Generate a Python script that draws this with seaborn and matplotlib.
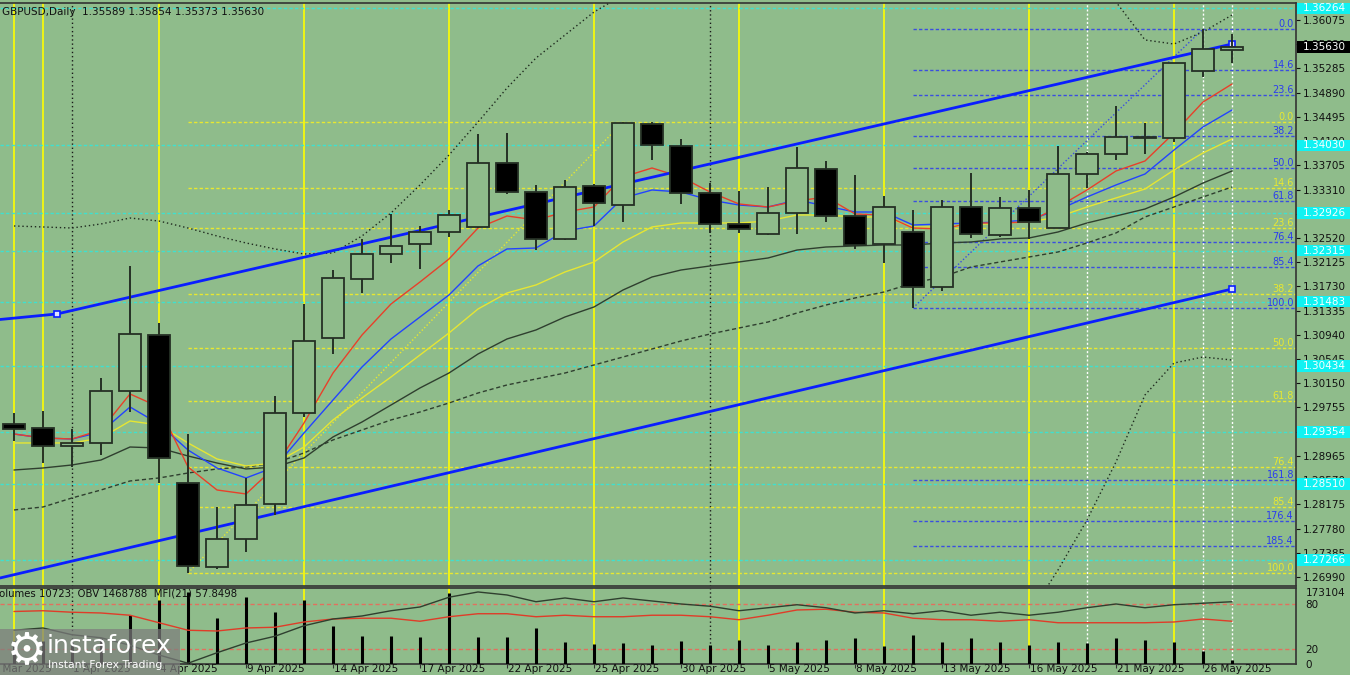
import matplotlib
matplotlib.use("Agg")
import matplotlib.pyplot as plt
import matplotlib.transforms as mtransforms
from matplotlib.patches import Rectangle
import numpy as np
import pandas as pd
import seaborn as sns

# ---------------- data ----------------
header_text = "GBPUSD,Daily  1.35589 1.35854 1.35373 1.35630"
indicator_text = "Volumes 10723  OBV 1468788  MFI(21) 57.8498"

bar_index = list(range(43))
opens = [1.29486, 1.29420, 1.29127, 1.29176, 1.30024, 1.30937, 1.28523, 1.27153, 1.27610, 1.28181,
         1.29665, 1.30888, 1.31851, 1.32258, 1.32421, 1.32617, 1.32699, 1.33743, 1.33270, 1.32503,
         1.33367, 1.33057, 1.34379, 1.34020, 1.33253, 1.32748, 1.32585, 1.32927, 1.33645, 1.32878,
         1.32421, 1.32617, 1.31720, 1.33025, 1.32568, 1.33009, 1.32682, 1.33563, 1.33889, 1.34150,
         1.34150, 1.35243, 1.35589]
highs = [1.29665, 1.29698, 1.29404, 1.30236, 1.32063, 1.31133, 1.29323, 1.28132, 1.28605, 1.29942,
         1.31443, 1.31997, 1.32503, 1.32911, 1.32715, 1.32976, 1.34216, 1.34232, 1.33384, 1.33465,
         1.33400, 1.34411, 1.34411, 1.34134, 1.33416, 1.33286, 1.33351, 1.34003, 1.33775, 1.33547,
         1.33204, 1.32976, 1.33139, 1.33579, 1.33188, 1.33302, 1.34020, 1.33922, 1.34672, 1.34395,
         1.35374, 1.35928, 1.35854]
lows = [1.29208, 1.28850, 1.28784, 1.28980, 1.29681, 1.28523, 1.27055, 1.27120, 1.27398, 1.28001,
        1.29600, 1.30627, 1.31622, 1.32112, 1.32014, 1.32536, 1.32680, 1.33237, 1.32324, 1.32487,
        1.32715, 1.32780, 1.33791, 1.33074, 1.32601, 1.32601, 1.32560, 1.32585, 1.32780, 1.32340,
        1.32112, 1.31378, 1.31655, 1.32519, 1.32536, 1.32503, 1.32682, 1.33335, 1.33791, 1.33889,
        1.34085, 1.35150, 1.35373]
closes = [1.29404, 1.29127, 1.29176, 1.30024, 1.30953, 1.28931, 1.27170, 1.27610, 1.28164, 1.29665,
          1.30839, 1.31867, 1.32258, 1.32389, 1.32617, 1.32894, 1.33743, 1.33270, 1.32503, 1.33351,
          1.33090, 1.34395, 1.34036, 1.33253, 1.32748, 1.32666, 1.32927, 1.33661, 1.32878, 1.32405,
          1.33025, 1.31720, 1.33025, 1.32585, 1.33009, 1.32780, 1.33563, 1.33889, 1.34167, 1.34167,
          1.35374, 1.35602, 1.35630]

ma_red = [1.29322, 1.29257, 1.29241, 1.29388, 1.29975, 1.29763, 1.28784, 1.28409, 1.28344, 1.28784,
          1.29502, 1.30317, 1.30937, 1.31443, 1.31802, 1.32177, 1.32682, 1.32878, 1.32813, 1.32943,
          1.33025, 1.33514, 1.33661, 1.33514, 1.33269, 1.33074, 1.33025, 1.33123, 1.33188, 1.32911,
          1.32894, 1.32682, 1.32666, 1.32764, 1.32764, 1.32780, 1.33025, 1.33302, 1.33612, 1.33775,
          1.34232, 1.34737, 1.35031]
ma_blue = [1.29322, 1.29257, 1.29241, 1.29355, 1.29763, 1.29486, 1.29061, 1.28768, 1.28605, 1.28784,
           1.29339, 1.29877, 1.30415, 1.30872, 1.31231, 1.31590, 1.32063, 1.32340, 1.32356, 1.32633,
           1.32715, 1.33172, 1.33302, 1.33269, 1.33139, 1.33057, 1.33025, 1.33139, 1.33041, 1.32943,
           1.32943, 1.32731, 1.32748, 1.32764, 1.32780, 1.32813, 1.32976, 1.33188, 1.33384, 1.33563,
           1.33954, 1.34330, 1.34607]
ma_yellow = [1.29176, 1.29176, 1.29176, 1.29257, 1.29534, 1.29469, 1.29176, 1.28915, 1.28801, 1.28849,
             1.29110, 1.29551, 1.29910, 1.30252, 1.30611, 1.30970, 1.31361, 1.31622, 1.31753, 1.31965,
             1.32128, 1.32454, 1.32699, 1.32764, 1.32764, 1.32764, 1.32796, 1.32894, 1.32894, 1.32862,
             1.32862, 1.32699, 1.32699, 1.32731, 1.32764, 1.32780, 1.32862, 1.33025, 1.33172, 1.33318,
             1.33628, 1.33906, 1.34134]
ma_gray = [1.28735, 1.28768, 1.28817, 1.28898, 1.29110, 1.29094, 1.28964, 1.28849, 1.28752, 1.28784,
           1.28931, 1.29274, 1.29518, 1.29795, 1.30073, 1.30317, 1.30627, 1.30872, 1.31019, 1.31231,
           1.31394, 1.31671, 1.31883, 1.31997, 1.32063, 1.32128, 1.32193, 1.32323, 1.32372, 1.32389,
           1.32405, 1.32405, 1.32438, 1.32454, 1.32503, 1.32519, 1.32617, 1.32764, 1.32878, 1.32992,
           1.33188, 1.33416, 1.33612]
ma_gray_dashed = [1.28083, 1.28132, 1.28279, 1.28409, 1.28556, 1.28605, 1.28686, 1.28752, 1.28784, 1.28849,
                  1.29013, 1.29225, 1.29388, 1.29551, 1.29681, 1.29828, 1.29991, 1.30122, 1.30220, 1.30317,
                  1.30448, 1.30578, 1.30709, 1.30839, 1.30953, 1.31051, 1.31149, 1.31296, 1.31426, 1.31541,
                  1.31638, 1.31785, 1.31883, 1.32046, 1.32128, 1.32209, 1.32291, 1.32438, 1.32601, 1.32862,
                  1.33025, 1.33188, 1.33351]
band_upper = [1.32715, 1.32699, 1.32682, 1.32748, 1.32845, 1.32796, 1.32682, 1.32552, 1.32438, 1.32340,
              1.32258, 1.32275, 1.32552, 1.32927, 1.33384, 1.33873, 1.34411, 1.34966, 1.35455, 1.35830,
              1.36205, 1.36483, 1.36809, 1.37053, 1.37217, 1.37298, 1.37380, 1.37380, 1.37380, 1.37347,
              1.37298, 1.37249, 1.37217, 1.37184, 1.37135, 1.37053, 1.36923, 1.36695, 1.36368, 1.35749,
              1.35683, 1.35879, 1.36156]
band_lower = [1.2610, 1.2605, 1.2600, 1.2600, 1.2590, 1.2575, 1.2540, 1.2500, 1.2470, 1.2450,
              1.2440, 1.2430, 1.2420, 1.2400, 1.2380, 1.2350, 1.2310, 1.2270, 1.2240, 1.2210,
              1.2180, 1.2160, 1.2150, 1.2150, 1.2160, 1.2180, 1.2200, 1.2230, 1.2260, 1.2300,
              1.2340, 1.2380, 1.2430, 1.2480, 1.25636, 1.26370, 1.27104, 1.27920, 1.28866, 1.29959,
              1.30480, 1.30578, 1.30529]

# lower panel (volume in units, OBV rescaled to panel 0-100, MFI 0-100)
volumes = [54100, 54100, 50500, 63100, 117200, 153300, 173104, 110000, 160500, 124400,
           153300, 92000, 66700, 66700, 64900, 171300, 64900, 64900, 86500, 52300,
           48700, 50500, 45100, 55900, 45100, 57700, 45100, 52300, 57700, 63100,
           43300, 70300, 52300, 63100, 52300, 45100, 52300, 50500, 63100, 57700,
           52300, 30700, 10723]
volume_axis_max = 173104
obv_scaled = [45, 48, 39, 35, 25, 12, 1, 15, 28, 37,
              51, 60, 64, 71, 76, 89, 96, 92, 83, 88,
              83, 88, 84, 80, 77, 71, 75, 79, 75, 68,
              71, 67, 71, 65, 69, 65, 69, 75, 80, 75,
              79, 81, 83]
mfi = [70, 71, 69, 68, 65, 55, 45, 44, 48, 49,
       56, 60, 61, 61, 57, 63, 67, 67, 63, 65,
       63, 63, 65, 65, 63, 59, 65, 72, 73, 69,
       68, 61, 59, 59, 57, 59, 55, 55, 55, 55,
       56, 60, 57]

date_label_index = [-1, 2, 5, 8, 11, 14, 17, 20, 23, 26, 29, 32, 35, 38, 41]
date_labels = ["27 Mar 2025", "1 Apr 2025", "4 Apr 2025", "9 Apr 2025", "14 Apr 2025",
               "17 Apr 2025", "22 Apr 2025", "25 Apr 2025", "30 Apr 2025", "5 May 2025",
               "8 May 2025", "13 May 2025", "16 May 2025", "21 May 2025", "26 May 2025"]

price_tick_labels = ["1.36075", "1.35680", "1.35285", "1.34890", "1.34495", "1.34100", "1.33705",
                     "1.33310", "1.32915", "1.32520", "1.32125", "1.31730", "1.31335", "1.30940",
                     "1.30545", "1.30150", "1.29755", "1.29360", "1.28965", "1.28570", "1.28175",
                     "1.27780", "1.27385", "1.26990"]
cyan_levels = [1.36264, 1.34030, 1.32926, 1.32315, 1.31483, 1.30434, 1.29354, 1.28510, 1.27266]
current_price = 1.35630

fib_ratios_yellow = [0.0, 14.6, 23.6, 38.2, 50.0, 61.8, 76.4, 85.4, 100.0]
fib_ratios_blue = [0.0, 14.6, 23.6, 38.2, 50.0, 61.8, 76.4, 85.4, 100.0, 161.8, 176.4, 185.4]
fib_yellow_low_bar, fib_yellow_high_bar = 6, 21
fib_blue_low_bar, fib_blue_high_bar = 31, 41

channel_upper = [(-0.48, 1.31190), (1.48, 1.31280), (42, 1.35683)]
channel_lower = [(-0.48, 1.26974), (42, 1.31687)]

yellow_vlines = [0, 1, 5, 10, 15, 20, 25, 30, 35, 40]
black_vlines = [2, 24]
white_vlines = [37, 41, 42]

# ---------------- style ----------------
BG = "#8fbc8b"
EDGE = "#253025"
sns.set_theme(style="white", rc={"axes.facecolor": BG, "figure.facecolor": BG})
plt.rcParams['font.family'] = ['DejaVu Sans']

W, H = 1350, 675
fig = plt.figure(figsize=(13.5, 6.75), dpi=100)
def fx(px): return px / W
def fy(py): return 1 - py / H

ax = fig.add_axes([0, fy(586), fx(1296), (586 - 3) / H])
ax2 = fig.add_axes([0, fy(664), fx(1296), (664 - 588) / H])
for a in (ax, ax2):
    a.set_facecolor(BG)

XMIN, XMAX = -14 / 29, (1296 - 14) / 29
YMIN, YMAX = 1.26843, 1.36352

dash = (0, (2.4, 1.6))

# vertical separators
for a in (ax, ax2):
    for v in yellow_vlines:
        a.axvline(v, color="#ffff00", lw=1.2, zorder=1)
    for v in black_vlines:
        a.axvline(v, color="#1a1a1a", lw=1, ls=(0, (1, 2)), zorder=1)
    for v in white_vlines:
        a.axvline(v, color="#ffffff", lw=1, ls=(0, (1.5, 1.5)), zorder=1)

# cyan levels
for lv in cyan_levels:
    ax.axhline(lv, color="#3fe0cf", lw=1, ls=dash, zorder=1.5)

# fibonacci levels
fy_hi, fy_lo = highs[fib_yellow_high_bar], lows[fib_yellow_low_bar]
fb_hi, fb_lo = highs[fib_blue_high_bar], lows[fib_blue_low_bar]
lab_x = (1294 - 14) / 29
for r in fib_ratios_yellow:
    p = fy_hi - r / 100 * (fy_hi - fy_lo)
    ax.plot([fib_yellow_low_bar, XMAX], [p, p], color="#e8e830", lw=1, ls=dash, zorder=1.6)
    ax.text(lab_x, p, f"{r:.1f}", color="#e8e830", fontsize=7, ha="right", va="bottom", zorder=9)
for r in fib_ratios_blue:
    p = fb_hi - r / 100 * (fb_hi - fb_lo)
    ax.plot([fib_blue_low_bar, XMAX], [p, p], color="#3a4ee0", lw=1, ls=dash, zorder=1.7)
    ax.text(lab_x, p, f"{r:.1f}", color="#2a3cf0", fontsize=7, ha="right", va="bottom", zorder=9)

# diagonal fib base lines
ax.plot([fib_yellow_low_bar, fib_yellow_high_bar], [fy_lo, fy_hi], color="#e8e830", lw=1, ls=(0, (1, 1.5)), zorder=2)
ax.plot([fib_blue_low_bar, fib_blue_high_bar], [fb_lo, fb_hi], color="#3a4ee0", lw=1, ls=(0, (1, 1.5)), zorder=2)

# moving averages and envelopes via seaborn
df = pd.DataFrame({"bar": bar_index, "red": ma_red, "blue": ma_blue, "yellow": ma_yellow,
                   "gray": ma_gray, "gray_d": ma_gray_dashed, "up": band_upper, "lo": band_lower})
sns.lineplot(data=df, x="bar", y="gray_d", ax=ax, color="#2f3f2f", lw=1, ls=(0, (3, 2)), zorder=3)
sns.lineplot(data=df, x="bar", y="gray", ax=ax, color="#2f3f2f", lw=1, zorder=3)
sns.lineplot(data=df, x="bar", y="yellow", ax=ax, color="#e6e633", lw=1, zorder=3)
sns.lineplot(data=df, x="bar", y="blue", ax=ax, color="#2243ff", lw=1, zorder=3)
sns.lineplot(data=df, x="bar", y="red", ax=ax, color="#e8402a", lw=1, zorder=3)
sns.lineplot(data=df, x="bar", y="up", ax=ax, color="#1f2a1f", lw=1, ls=(0, (1, 2)), zorder=3)
sns.lineplot(data=df, x="bar", y="lo", ax=ax, color="#1f2a1f", lw=1, ls=(0, (1, 2)), zorder=3)

# channel
ax.plot([p[0] for p in channel_upper], [p[1] for p in channel_upper], color="#0a1eff", lw=2, zorder=4)
ax.plot([p[0] for p in channel_lower], [p[1] for p in channel_lower], color="#0a1eff", lw=2, zorder=4)
ax.plot([channel_upper[1][0], channel_upper[2][0], channel_lower[1][0]],
        [channel_upper[1][1], channel_upper[2][1], channel_lower[1][1]],
        ls="none", marker="s", ms=4, mfc="#dfe4ff", mec="#0a1eff", mew=1.2, zorder=4.5)

# candles
ax.vlines(bar_index, lows, highs, color=EDGE, lw=1.4, zorder=6)
bottoms = [min(o, c) for o, c in zip(opens, closes)]
heights = [max(abs(c - o), 0.00004) for o, c in zip(opens, closes)]
faces = [BG if c >= o else "black" for o, c in zip(opens, closes)]
ax.bar(bar_index, heights, bottom=bottoms, width=0.76, color=faces, edgecolor=EDGE, linewidth=1.3, zorder=7)

ax.set_xlim(XMIN, XMAX)
ax.set_ylim(YMIN, YMAX)
ax.set_xlabel("")
ax.set_ylabel("")
ax.set_xticks([])
ax.yaxis.tick_right()
ax.set_yticks([float(t) for t in price_tick_labels])
ax.set_yticklabels(price_tick_labels)
ax.tick_params(axis="y", labelsize=7.5, length=3, width=0.8, pad=2, colors="#111111", right=True)
ax.spines["left"].set_visible(False)
for s in ("top", "bottom", "right"):
    ax.spines[s].set_color("#333333")
    ax.spines[s].set_linewidth(1.2)

# axis price tags
bt = mtransforms.blended_transform_factory(ax.transAxes, ax.transData)
for lv in cyan_levels:
    ax.add_patch(Rectangle((1.001, lv - 0.00095), 0.043, 0.0019, transform=bt, facecolor="#11f2f2",
                           edgecolor="none", clip_on=False, zorder=20))
    ax.text(1.0055, lv, f"{lv:.5f}", transform=bt, color="#f4ffff", fontsize=7.5, ha="left",
            va="center", clip_on=False, zorder=21)
ax.add_patch(Rectangle((1.001, current_price - 0.00095), 0.043, 0.0019, transform=bt, facecolor="black",
                       edgecolor="none", clip_on=False, zorder=20))
ax.text(1.0055, current_price, f"{current_price:.5f}", transform=bt, color="white", fontsize=7.5,
        ha="left", va="center", clip_on=False, zorder=21)

ax.text(0.0015, 0.993, header_text, transform=ax.transAxes, fontsize=7.5, color="#111111",
        ha="left", va="top", zorder=22)

# ---------------- lower panel ----------------
vol_scale = 96 / volume_axis_max
ax2.vlines(bar_index, 0, [v * vol_scale for v in volumes], color="black", lw=2.2, zorder=3)
ax2.axhline(80, color="#e2705e", lw=1, ls=(0, (3, 2)), zorder=2)
ax2.axhline(20, color="#e2705e", lw=1, ls=(0, (3, 2)), zorder=2)
low_df = pd.DataFrame({"bar": bar_index, "obv": obv_scaled, "mfi": mfi})
sns.lineplot(data=low_df, x="bar", y="mfi", ax=ax2, color="#e03c28", lw=1, zorder=4)
sns.lineplot(data=low_df, x="bar", y="obv", ax=ax2, color="#2f3f2f", lw=1, zorder=4)
ax2.set_xlim(XMIN, XMAX)
ax2.set_ylim(0, 101.3)
ax2.set_xlabel("")
ax2.set_ylabel("")
ax2.yaxis.tick_right()
ax2.set_yticks([96, 80, 20, 0])
ax2.set_yticklabels([str(volume_axis_max), "80", "20", "0"])
ax2.tick_params(axis="y", labelsize=7.5, length=0, pad=7, colors="#111111")
ax2.set_xticks([d for d in date_label_index if d >= XMIN])
ax2.set_xticklabels([])
ax2.tick_params(axis="x", length=3, width=0.8, direction="out", colors="#333333", bottom=True)
ax2.spines["left"].set_visible(False)
for s in ("top", "bottom", "right"):
    ax2.spines[s].set_color("#333333")
    ax2.spines[s].set_linewidth(1.2)
bt2 = mtransforms.blended_transform_factory(ax2.transData, ax2.transAxes)
for d, lab in zip(date_label_index, date_labels):
    ax2.text(d + 0.05, -0.07, lab, transform=bt2, fontsize=7.5, color="#111111", ha="left",
             va="center", clip_on=False)

fig.text(fx(-7), fy(594), indicator_text, fontsize=7.3, color="#111111", ha="left", va="center")

# watermark logo
fig.patches.append(Rectangle((0, 0), fx(180), 46 / H, transform=fig.transFigure,
                             facecolor="#7d7d7d", alpha=0.72, edgecolor="none", zorder=30))
fig.text(fx(27), fy(651), "\u2699", fontsize=32, color="white", ha="center", va="center", zorder=31)
fig.text(fx(47), fy(646), "instaforex", fontsize=18, color="white", ha="left", va="center", zorder=31)
fig.text(fx(48), fy(665), "Instant Forex Trading", fontsize=7.8, color="white", ha="left", va="center", zorder=31)

fig.savefig("out.png", dpi=100, facecolor=BG)
